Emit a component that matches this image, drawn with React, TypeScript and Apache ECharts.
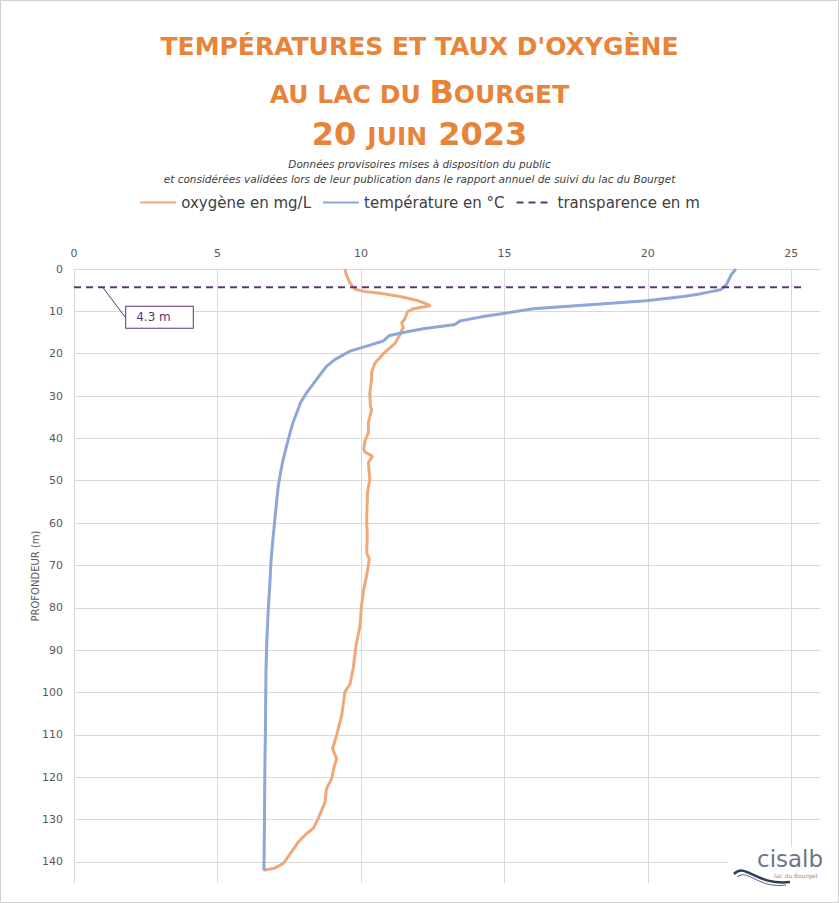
import React, { useEffect, useRef } from "react";
import * as echarts from "echarts";

// ---- data ----
const xTickValues = [0, 5, 10, 15, 20, 25];

const tempDepths = [
  0, 1.4, 3.7, 4.9, 5.4, 6.0, 6.5, 7.5, 8.4, 9.4, 10.4, 11.3, 12.3, 13.1, 14.1, 14.7,
  15.7, 17.0, 18.2, 19.4, 21.4, 23.0, 26.1, 29.3, 31.5, 34.0, 36.5, 38.7, 42.0, 45.0,
  48.0, 51.3, 55.0, 59.2, 64.0, 68.6, 75.0, 80.4, 88.0, 95.3, 102, 109.5, 119, 129, 136, 142,
];
const tempValues = [
  23.07, 22.9, 22.74, 22.53, 22.16, 21.7, 21.23, 19.95, 18.1, 16.0, 15.08, 14.2, 13.45,
  13.28, 12.17, 11.7, 11.0, 10.78, 10.2, 9.62, 9.09, 8.8, 8.45, 8.1, 7.9, 7.76, 7.62,
  7.53, 7.4, 7.29, 7.2, 7.12, 7.06, 7.0, 6.93, 6.87, 6.82, 6.77, 6.72, 6.69, 6.68, 6.67,
  6.65, 6.64, 6.63, 6.62,
];

const oxyDepths = [
  0, 1.5, 3.3, 4.8, 5.4, 5.7, 6.5, 7.4, 8.0, 8.7, 9.4, 10.1, 11.8, 12.7, 13.9, 14.5,
  15.5, 17.6, 20.0, 22.2, 24.5, 26.1, 29.3, 32.4, 33.2, 36.3, 38.7, 40.6, 42.6, 43.2,
  44.2, 45.7, 49.7, 52.8, 59.1, 63.0, 67.0, 68.5, 71.6, 76.4, 79.5, 84.2, 88.9, 94.4,
  98.0, 99.9, 103.0, 105.4, 110.2, 113.3, 115.6, 118, 120.4, 122.7, 125.9, 129.8, 132.1,
  133.3, 135.3, 137.6, 140.4, 141.5, 142.0,
];
const oxyValues = [
  9.44, 9.5, 9.62, 9.8, 10.2, 10.66, 11.36, 11.94, 12.2, 12.42, 11.82, 11.62, 11.53,
  11.42, 11.48, 11.42, 11.36, 11.18, 10.78, 10.49, 10.37, 10.37, 10.31, 10.33, 10.37,
  10.26, 10.26, 10.14, 10.1, 10.14, 10.4, 10.26, 10.31, 10.23, 10.2, 10.22, 10.2, 10.29,
  10.22, 10.08, 10.02, 9.97, 9.83, 9.73, 9.62, 9.44, 9.38, 9.33, 9.15, 9.01, 9.15, 9.05,
  8.98, 8.8, 8.75, 8.51, 8.34, 8.11, 7.82, 7.59, 7.29, 7.0, 6.6,
];

const transparencyDepth = 4.3;
const transparencyX = [0, 1, 25.5];
const transparencyLabelIndex = 1;

const seriesNames = ["oxygène en mg/L", "température en °C", "transparence en m"];
const yAxisName = "PROFONDEUR (m)";
const subtitleLines = [
  "Données provisoires mises à disposition du public",
  "et considérées validées lors de leur publication dans le rapport annuel de suivi du lac du Bourget",
];

const FONT = "DejaVu Sans";
const ORANGE_TITLE = "#E8843A";
const OXY_COLOR = "#F0A878";
const TEMP_COLOR = "#8DA7D9";
const TRANSP_COLOR = "#5C3775";
const GRID_COLOR = "#D9D9D9";
const LABEL_COLOR = "#595959";

export default function App() {
  const ref = useRef<HTMLDivElement>(null);

  useEffect(() => {
    if (!ref.current) return;
    const chart = echarts.init(ref.current, undefined, { renderer: "svg" });

    const richTitle = {
      s: {
        fontFamily: FONT,
        fontWeight: "bold",
        fontSize: 25,
        lineHeight: 25,
        color: ORANGE_TITLE,
        verticalAlign: "bottom",
        padding: [0, 0, 1.5, 0],
      },
      b: {
        fontFamily: FONT,
        fontWeight: "bold",
        fontSize: 32,
        lineHeight: 32,
        color: ORANGE_TITLE,
        verticalAlign: "bottom",
      },
    };

    const subStyle = {
      fontFamily: FONT,
      fontSize: 10.5,
      fontStyle: "italic",
      fontWeight: "normal",
      color: "#404040",
    };

    const oxyData = oxyDepths.map((d, i) => [oxyValues[i], d]);
    const tempData = tempDepths.map((d, i) => [tempValues[i], d]);
    const transpData = transparencyX.map((x, i) =>
      i === transparencyLabelIndex
        ? {
            value: [x, transparencyDepth],
            symbol: "circle",
            symbolSize: 1,
            label: { show: true },
            labelLine: { show: true },
          }
        : { value: [x, transparencyDepth] }
    );

    const option: any = {
      animation: false,
      backgroundColor: "#ffffff",
      title: [
        {
          text: "{s|TEMPÉRATURES ET TAUX D'OXYGÈNE}",
          left: "center",
          top: 30,
          textStyle: { rich: richTitle },
        },
        {
          text: "{s|AU LAC DU }{b|B}{s|OURGET}",
          left: "center",
          top: 71,
          textStyle: { rich: richTitle },
        },
        {
          text: "{b|20 }{s|JUIN}{b| 2023}",
          left: "center",
          top: 113,
          textStyle: { rich: richTitle },
        },
        {
          text: subtitleLines[0],
          left: "center",
          top: 153,
          textStyle: subStyle,
        },
        {
          text: subtitleLines[1],
          left: "center",
          top: 168,
          textStyle: subStyle,
        },
      ],
      legend: {
        data: seriesNames,
        left: "center",
        top: 190,
        itemWidth: 36,
        itemHeight: 12,
        itemGap: 11,
        itemStyle: { opacity: 0 },
        textStyle: { fontFamily: FONT, fontSize: 15, color: "#404040" },
      },
      grid: { left: 74, right: 19, top: 269, bottom: 20, containLabel: false },
      xAxis: {
        type: "value",
        position: "top",
        min: 0,
        max: 26,
        interval: 5,
        axisLine: { show: true, lineStyle: { color: GRID_COLOR } },
        axisTick: { show: false },
        axisLabel: {
          fontFamily: FONT,
          fontSize: 11,
          color: LABEL_COLOR,
          margin: 10,
          showMaxLabel: false,
          formatter: (v: number) => (xTickValues.includes(v) ? String(v) : ""),
        },
        splitLine: { show: true, showMaxLine: false, lineStyle: { color: GRID_COLOR, width: 1 } },
      },
      yAxis: {
        type: "value",
        inverse: true,
        min: 0,
        max: 145,
        interval: 10,
        name: yAxisName,
        nameLocation: "middle",
        nameRotate: 90,
        nameGap: 34,
        nameMoveOverlap: false,
        nameTextStyle: { fontFamily: FONT, fontSize: 10, color: LABEL_COLOR },
        axisLine: { show: true, lineStyle: { color: GRID_COLOR } },
        axisTick: { show: false },
        axisLabel: {
          fontFamily: FONT,
          fontSize: 11,
          color: LABEL_COLOR,
          margin: 11,
          showMaxLabel: false,
        },
        splitLine: { show: true, showMaxLine: false, lineStyle: { color: GRID_COLOR, width: 1 } },
      },
      series: [
        {
          name: seriesNames[0],
          type: "line",
          data: oxyData,
          symbol: "none",
          smooth: false,
          lineStyle: { color: OXY_COLOR, width: 3 },
          itemStyle: { color: OXY_COLOR },
          emphasis: { disabled: true },
          silent: true,
          z: 3,
        },
        {
          name: seriesNames[1],
          type: "line",
          data: tempData,
          symbol: "none",
          lineStyle: { color: TEMP_COLOR, width: 3 },
          itemStyle: { color: TEMP_COLOR },
          emphasis: { disabled: true },
          silent: true,
          z: 4,
        },
        {
          name: seriesNames[2],
          type: "line",
          data: transpData,
          symbol: "none",
          showSymbol: true,
          lineStyle: { color: TRANSP_COLOR, width: 2, type: [7, 5] },
          itemStyle: { color: TRANSP_COLOR },
          emphasis: { disabled: true },
          silent: true,
          z: 5,
          label: {
            show: false,
            position: "right",
            distance: 5,
            formatter: (p: any) => `${p.value[1]} m`,
            fontFamily: FONT,
            fontSize: 12,
            color: TRANSP_COLOR,
            backgroundColor: "#ffffff",
            borderColor: TRANSP_COLOR,
            borderWidth: 1,
            padding: [5, 22, 4, 10],
          },
          labelLine: { show: false, lineStyle: { color: TRANSP_COLOR, width: 1 } },
          labelLayout: { dx: 18, dy: 30 },
        },
      ],
      graphic: [
        {
          type: "rect",
          z: 100,
          silent: true,
          shape: { x: 728, y: 847, width: 109, height: 54 },
          style: { fill: "#ffffff" },
        },
        {
          type: "text",
          z: 101,
          silent: true,
          x: 757,
          y: 847,
          style: {
            text: "cisalb",
            fontFamily: FONT,
            fontSize: 23,
            fill: "#6B7585",
          },
        },
        {
          type: "text",
          z: 101,
          silent: true,
          x: 774,
          y: 872,
          style: {
            text: "lac du Bourget",
            fontFamily: FONT,
            fontSize: 6,
            fill: "#8A93A0",
          },
        },
        {
          type: "bezierCurve",
          z: 101,
          silent: true,
          shape: { x1: 734, y1: 874, cpx1: 746, cpy1: 862, cpx2: 756, cpy2: 886, x2: 790, y2: 882 },
          style: { stroke: "#2F3E5A", lineWidth: 2.5, fill: "none" },
        },
        {
          type: "bezierCurve",
          z: 101,
          silent: true,
          shape: { x1: 737, y1: 877, cpx1: 748, cpy1: 868, cpx2: 758, cpy2: 889, x2: 786, y2: 885 },
          style: { stroke: "#56657F", lineWidth: 1, fill: "none" },
        },
        {
          type: "rect",
          z: 102,
          silent: true,
          shape: { x: 0.5, y: 0.5, width: 838, height: 902 },
          style: { fill: "none", stroke: "#D0D0D0", lineWidth: 1 },
        },
      ],
    };

    chart.setOption(option);
    return () => chart.dispose();
  }, []);

  return (
    <div
      ref={ref}
      style={{ position: "absolute", left: 0, top: 0, width: 839, height: 903 }}
    />
  );
}
